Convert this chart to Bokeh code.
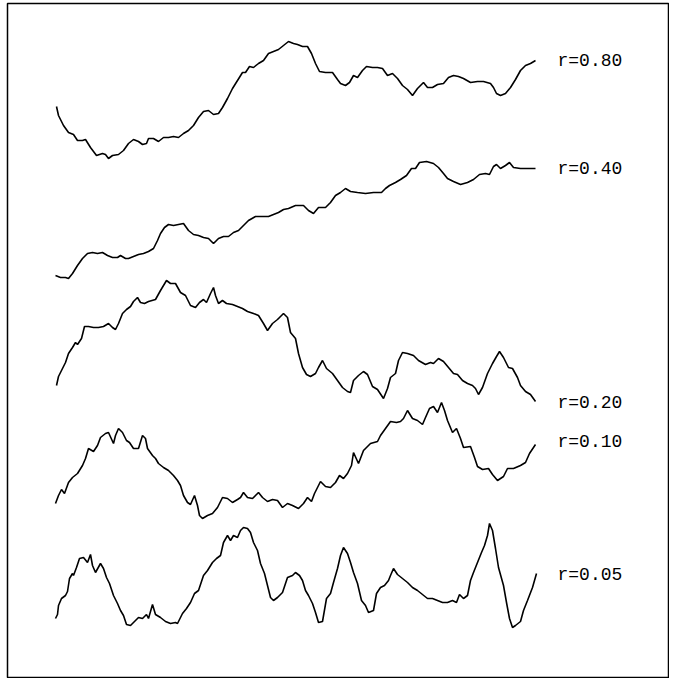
from bokeh.plotting import figure
from bokeh.models import Range1d
from bokeh.core.properties import value
from bokeh.embed import file_html
from bokeh.resources import INLINE

# Curves (x position, y position; y grows downward)
x_r080 = [56,58,63,68,73,77,82,85,90,96,102,105,108,112,118,123,128,133,138,142,146,148,153,158,163,168,173,178,183,188,193,198,203,208,213,218,222,227,232,237,242,245,249,253,258,263,268,273,278,283,288,293,297,302,307,311,315,319,325,332,337,340,345,349,353,357,362,366,372,377,382,387,392,397,402,407,412,417,423,427,432,437,443,448,453,458,463,470,477,483,490,493,496,500,505,510,515,520,525,530,535]
y_r080 = [106,115,125,132,134,140,140,139,147,155,153,154,158,155,154,150,143,139,141,144,143,138,138,141,137,137,136,137,133,130,125,117,111,110,114,113,107,98,88,80,72,72,66,67,63,60,53,51,49,45,41,43,44,46,46,53,63,71,72,72,79,83,85,82,75,77,70,66,67,67,68,75,73,78,85,89,95,88,82,87,87,84,83,77,75,76,78,82,81,81,83,87,93,95,93,87,79,70,65,63,60]

x_r040 = [55,60,65,68,72,77,82,87,92,97,102,107,112,117,120,125,128,133,138,143,148,153,157,160,164,168,173,178,183,188,193,198,203,208,213,218,223,228,233,238,243,248,255,262,268,273,278,283,288,295,303,308,313,318,325,330,335,340,345,350,357,365,373,381,385,389,395,400,406,411,415,419,426,433,438,443,447,453,460,467,473,479,485,489,493,496,500,505,509,513,520,527,535]
y_r040 = [275,277,277,278,273,265,258,253,252,253,252,255,257,257,255,258,258,256,254,253,251,248,240,233,227,224,225,224,223,230,234,235,237,238,243,238,236,236,232,230,225,220,216,216,216,214,212,209,208,205,205,210,213,207,207,202,195,192,188,191,192,193,192,192,188,185,182,179,175,168,168,162,161,163,167,173,178,181,184,182,179,174,173,174,166,164,168,165,162,167,168,168,168]

x_r020 = [56,58,62,65,68,72,75,77,81,84,88,93,98,103,108,112,115,118,122,126,130,133,137,140,144,148,155,160,166,170,175,180,185,190,195,199,203,206,210,213,215,218,222,226,232,237,242,247,253,258,263,267,272,277,283,287,290,295,298,302,306,310,315,318,322,326,332,337,342,347,350,353,358,363,367,372,377,383,387,390,395,398,402,407,413,418,425,430,433,438,443,448,453,457,462,467,472,475,478,482,487,492,496,499,503,508,512,517,520,525,530,535]
y_r020 = [385,376,368,362,353,347,342,344,338,326,326,327,327,326,323,327,329,323,313,309,306,301,297,302,303,301,299,290,280,283,283,292,295,305,307,302,299,302,293,287,295,303,300,303,304,306,308,311,313,315,323,330,323,319,313,317,332,338,353,367,374,376,373,367,360,368,373,380,387,391,392,380,375,371,374,386,389,398,388,377,373,360,352,353,355,360,364,362,363,358,361,367,373,374,380,383,385,388,394,387,373,363,356,351,357,367,368,377,385,391,394,401]

x_r010 = [55,58,61,64,68,72,77,82,85,88,93,97,100,105,108,113,115,118,122,126,129,133,138,142,145,147,152,155,158,163,168,173,177,180,183,187,190,194,197,199,202,207,212,217,222,227,232,237,240,243,247,252,255,258,262,267,272,277,282,287,292,298,303,307,311,314,320,325,330,335,339,343,347,351,353,358,363,370,377,380,385,390,396,400,403,407,412,417,422,425,429,433,437,441,444,447,452,456,460,463,470,474,477,482,488,492,497,503,507,513,520,525,529,535]
y_r010 = [503,495,489,493,482,477,473,465,458,448,451,445,437,433,432,443,435,428,432,440,442,448,448,435,438,448,455,458,463,467,470,475,480,485,495,502,504,495,505,515,518,515,513,507,497,498,502,499,497,492,497,498,495,492,497,501,499,500,507,503,505,508,503,497,501,493,481,486,487,482,475,478,473,465,452,463,450,443,441,435,428,421,422,421,418,410,418,420,424,417,408,406,412,402,410,420,432,428,438,447,446,457,466,469,468,474,480,476,468,468,465,462,453,444]

x_r005 = [55,57,58,61,65,67,69,72,73,76,79,83,87,90,92,95,100,103,106,109,113,117,120,123,126,130,133,138,142,146,148,152,155,160,165,170,175,177,182,186,190,194,198,203,207,212,216,220,223,227,230,233,237,240,243,247,250,253,257,260,264,267,270,273,277,282,287,292,295,299,302,305,308,312,315,318,322,326,330,333,337,340,343,347,350,353,357,361,365,368,373,376,380,384,388,390,393,397,402,407,412,417,422,427,432,437,442,447,452,456,459,463,467,470,473,477,481,484,487,489,492,495,498,503,506,509,512,515,520,523,527,532,536]
y_r005 = [618,614,605,598,595,591,578,573,575,567,558,557,562,554,565,572,563,568,577,583,595,603,610,615,624,625,622,617,618,614,618,604,614,617,621,623,622,623,613,608,602,593,590,575,570,562,558,555,542,535,540,535,537,530,527,528,532,542,550,563,573,585,597,600,597,592,577,575,572,575,580,590,595,603,612,622,621,598,593,582,568,555,547,553,562,572,583,600,605,612,610,593,587,585,580,575,568,574,578,582,587,590,594,598,598,600,602,602,600,602,594,598,595,580,572,562,552,545,535,523,530,548,567,585,602,618,627,625,621,610,600,587,573]

labels = ["r=0.80", "r=0.40", "r=0.20", "r=0.10", "r=0.05"]
label_x = [557, 557, 557, 557, 557]
label_y = [60, 168, 402, 441, 574]

p = figure(width=669, height=678, output_backend="svg", toolbar_location=None,
           x_range=Range1d(7, 668), y_range=Range1d(677, 3),
           min_border_left=7, min_border_top=3, min_border_right=1, min_border_bottom=1)
p.axis.visible = False
p.grid.visible = False
p.outline_line_color = "black"
p.outline_line_width = 1.5
p.background_fill_color = "white"

for xs, ys in [(x_r080, y_r080), (x_r040, y_r040), (x_r020, y_r020), (x_r010, y_r010), (x_r005, y_r005)]:
    p.line(xs, ys, line_color="black", line_width=1.6)

p.text(x=label_x, y=label_y, text=labels, text_font=value("Liberation Mono"),
       text_font_size="18px", text_baseline="middle", text_align="left", text_color="black")

open("out.html", "w").write(file_html(p, INLINE))
